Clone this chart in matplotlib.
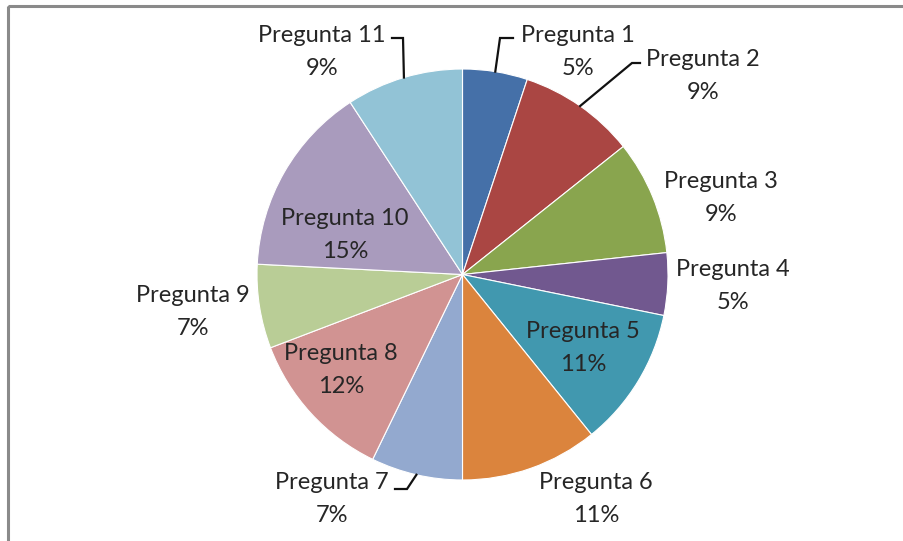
import numpy as np
import matplotlib
matplotlib.use("Agg")
from matplotlib import pyplot as plt
from matplotlib.patches import Rectangle

labels = ["Pregunta 1", "Pregunta 2", "Pregunta 3", "Pregunta 4", "Pregunta 5", "Pregunta 6",
          "Pregunta 7", "Pregunta 8", "Pregunta 9", "Pregunta 10", "Pregunta 11"]
values = [5.1, 9.2, 9.0, 4.9, 11.0, 10.8, 7.2, 12.0, 6.6, 15.0, 9.2]
colors = ["#4570A8", "#AA4643", "#89A54E", "#71588F", "#4198AF", "#DB843D",
          "#93A9CF", "#D19392", "#B9CD96", "#A99BBD", "#92C3D6"]

# layout in pixel coordinates (y grows downwards)
W, H = 904, 541
cx, cy, r = 462.5, 274.5, 205.5
label_pos = [(578, 52), (703, 76), (721, 198), (733, 286), (583, 348), (596, 499),
             (332, 499), (341, 370), (193, 312), (345, 235), (322, 52)]
# leader lines: elbow point and end point next to the text
leaders = {0: [(500, 38), (513, 38)],
           1: [(632, 63), (640, 63)],
           6: [(407, 489), (395, 489)],
           10: [(403, 38), (392, 38)]}

plt.rcParams["font.family"] = ["Lato", "DejaVu Sans"]

fig = plt.figure(figsize=(W / 100, H / 100), dpi=100)
ax = fig.add_axes([0, 0, 1, 1])

# y axis inverted -> start at top, counterclock in data = clockwise on screen
ax.pie(values, colors=colors, startangle=-90, counterclock=True,
       center=(cx, cy), radius=r,
       wedgeprops=dict(edgecolor="white", linewidth=0.8))
ax.set_xlim(0, W)
ax.set_ylim(H, 0)
ax.axis("off")

total = sum(values)
cum = np.cumsum([0] + values[:-1])
for i, lab in enumerate(labels):
    pct = values[i] / total * 100
    x, y = label_pos[i]
    ax.text(x, y, f"{lab}\n{pct:.0f}%", ha="center", va="center", fontsize=17,
            color="#262626", linespacing=1.75)
    if i in leaders:
        a = np.radians(360 * (cum[i] + values[i] / 2) / total)
        ex, ey = cx + r * np.sin(a), cy - r * np.cos(a)
        pts = [(ex, ey)] + leaders[i]
        ax.plot([p[0] for p in pts], [p[1] for p in pts], color="#111111", lw=1.6,
                solid_joinstyle="miter")

# chart frame
ax.add_patch(Rectangle((8, 6), W + 10, H + 10, fill=False, edgecolor="#8a8a8a", lw=2.2))

fig.savefig("out.png", dpi=100, facecolor="white")
